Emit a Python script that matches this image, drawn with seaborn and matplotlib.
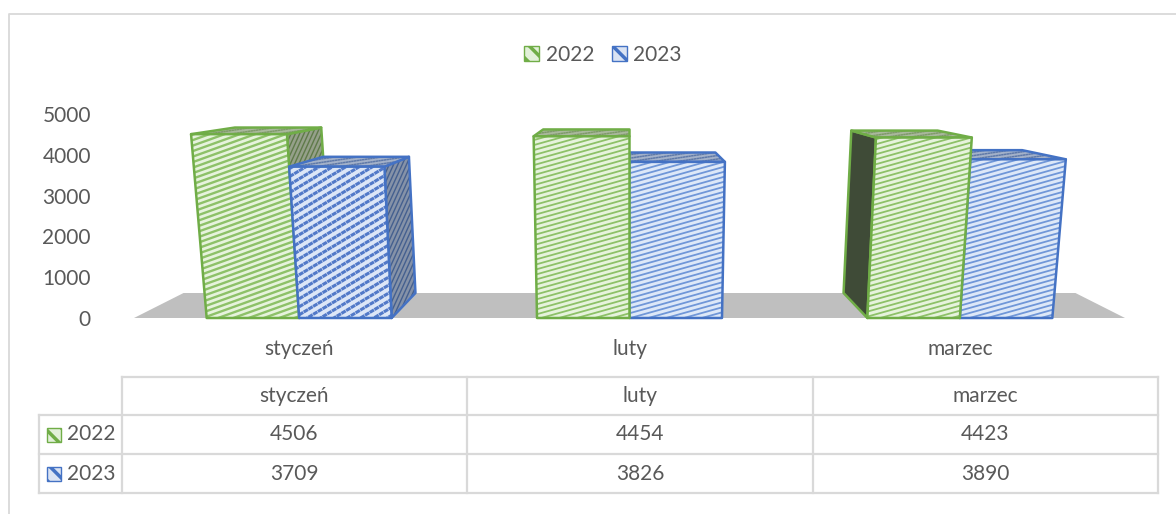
import matplotlib
matplotlib.use('Agg')
import matplotlib.pyplot as plt
import numpy as np
import pandas as pd
import seaborn as sns
from matplotlib.collections import LineCollection
from matplotlib.patches import Patch, Polygon, Rectangle

months = ['styczeń', 'luty', 'marzec']
years = ['2022', '2023']
values_2022 = [4506, 4454, 4423]
values_2023 = [3709, 3826, 3890]
y_ticks = [0, 1000, 2000, 3000, 4000, 5000]

GREEN = '#70AD47'
BLUE = '#4472C4'
TEXT = '#595959'
GRID = '#D9D9D9'

# perspective of the 3d box, in data units
CX = 1.0
VANISH_Y = 6127
SKEW = 8.2e-6
DEPTH = 0.1
PX_X = 330.5
PX_Y = 0.0408

# light fill, stripe colour, stripe width, slope, spacing (px)
front_style = {
    ('2022', 0): ('#E6F3DC', '#8DC168', 1.7, 0.36, 5.5),
    ('2022', 1): ('#E6F3DC', '#8DC168', 1.3, 0.28, 5.0),
    ('2022', 2): ('#E6F3DC', '#8DC168', 1.3, 0.28, 5.0),
    ('2023', 0): ('#DCE6F7', '#5279C8', 2.2, 0.6, 8.0),
    ('2023', 1): ('#DDE8F8', '#7097D8', 1.3, 0.28, 5.0),
    ('2023', 2): ('#DDE8F8', '#7097D8', 1.3, 0.28, 5.0),
}
side_style = {
    '2022': ('#95A08A', '#5F7A4A'),
    '2023': ('#8592A8', '#45608F'),
}
top_style = {'2022': ('#A9B89C', '#7F9A6A'), '2023': ('#A3B1C9', '#5F79A8')}

plt.rcParams['font.family'] = ['Lato', 'DejaVu Sans']
plt.rcParams['hatch.linewidth'] = 2.5

df = pd.DataFrame({
    'month': months * 2,
    'year': [years[0]] * 3 + [years[1]] * 3,
    'value': values_2022 + values_2023,
})

fig = plt.figure(figsize=(11.76, 5.14), dpi=100)
ax = fig.add_axes([134 / 1176, (514 - 318) / 514, 991 / 1176, 204 / 514])
sns.barplot(data=df, x='month', y='value', hue='year', hue_order=years, width=0.56,
            palette=[GREEN, BLUE], legend=False, ax=ax)
ax.set_xlim(-0.5, 2.5)
ax.set_ylim(0, 5000)
ax.set_yticks(y_ticks)
ax.set_xlabel('')
ax.set_ylabel('')
ax.tick_params(axis='x', length=0, pad=15, labelsize=15, labelcolor=TEXT)
ax.tick_params(axis='y', length=0, pad=31, labelsize=15, labelcolor=TEXT)
for s in ax.spines.values():
    s.set_visible(False)


def proj(x, v, d=0):
    fx = CX + (x - CX) * (1 + SKEW * v)
    s = 1 - d * DEPTH
    return CX + (fx - CX) * s, VANISH_Y + (v - VANISH_Y) * s


def face(points, fill, edge, stripe, lw, slope, spacing, z, dots=False):
    poly = Polygon(points, closed=True, facecolor=fill, edgecolor='none', zorder=z, clip_on=False)
    ax.add_patch(poly)
    # slanted stripes cut to the face
    k = slope * PX_X / PX_Y
    offs = np.arange(-16000, 8000, spacing / PX_Y)
    segs = [[(-0.6, o + k * -0.6), (2.6, o + k * 2.6)] for o in offs]
    lc = LineCollection(segs, colors=stripe, linewidths=lw, zorder=z + 0.1,
                        linestyles=(0, (1.6, 0.2)) if dots else 'solid')
    ax.add_collection(lc, autolim=False)
    lc.set_clip_path(poly)
    ax.add_patch(Polygon(points, closed=True, facecolor='none', edgecolor=edge, linewidth=1.8,
                         joinstyle='round', zorder=z + 0.2, clip_on=False))


# floor
floor = [proj(-0.5, 0), proj(2.5, 0), proj(2.5, 0, 1), proj(-0.5, 0, 1)]
ax.add_patch(Polygon(floor, closed=True, facecolor='#BFBFBF', edgecolor='none', zorder=1))

# swap the flat bars for boxes, outermost first
bars = []
for year, container, colour in zip(years, ax.containers, [GREEN, BLUE]):
    for i, bar in enumerate(container):
        bar.set_visible(False)
        bars.append((year, i, bar.get_x(), bar.get_x() + bar.get_width(), bar.get_height(), colour))
bars.sort(key=lambda b: -abs((b[2] + b[3]) / 2 - CX))

z = 2
for year, i, x0, x1, v, colour in bars:
    sfill, sstripe = side_style[year]
    if x1 < CX:
        face([proj(x1, 0), proj(x1, v), proj(x1, v, 1), proj(x1, 0, 1)],
             sfill, colour, sstripe, 1.0, 2.2, 9.5, z)
    if x0 > CX:
        face([proj(x0, 0), proj(x0, v), proj(x0, v, 1), proj(x0, 0, 1)],
             '#3F4B37', colour, '#6A8755', 1.0, 2.2, 9.5, z)
    tfill, tstripe = top_style[year]
    face([proj(x0, v), proj(x1, v), proj(x1, v, 1), proj(x0, v, 1)],
         tfill, colour, tstripe, 1.1, 0.15, 3.5, z + 1, dots=True)
    fill, stripe, lw, slope, spacing = front_style[(year, i)]
    face([proj(x0, 0), proj(x1, 0), proj(x1, v), proj(x0, v)],
         fill, colour, stripe, lw, slope, spacing, z + 2, dots=(year, i) == ('2023', 0))
    z += 3

# legend
handles = [Patch(facecolor='#E2F0D9', edgecolor=GREEN, hatch='\\\\', label=years[0]),
           Patch(facecolor='#DAE3F3', edgecolor=BLUE, hatch='\\\\', label=years[1])]
fig.legend(handles=handles, ncol=2, loc='center', bbox_to_anchor=(603 / 1176, 1 - 55 / 514),
           frameon=False, fontsize=15, labelcolor=TEXT, handlelength=0.72, handleheight=0.72,
           handletextpad=0.3, columnspacing=0.85)

# outer frame and data table, drawn in pixels
tb = fig.add_axes([0, 0, 1, 1], facecolor='none')
tb.set_xlim(0, 1176)
tb.set_ylim(514, 0)
tb.axis('off')
tb.plot([9, 9, 1176], [514, 14, 14], color=GRID, lw=1.3, clip_on=False)

col_x = [122, 467, 813, 1158]
row_y = [377, 415, 454, 493]
tb.plot([col_x[0], col_x[-1]], [row_y[0]] * 2, color=GRID, lw=1.6)
for y in row_y[1:]:
    tb.plot([39, col_x[-1]], [y, y], color=GRID, lw=1.6)
for x in col_x:
    tb.plot([x, x], [row_y[0], row_y[-1]], color=GRID, lw=1.6)
tb.plot([39, 39], [row_y[1], row_y[-1]], color=GRID, lw=1.6)

cell_rows = [values_2022, values_2023]
for j, month in enumerate(months):
    cx = (col_x[j] + col_x[j + 1]) / 2
    tb.text(cx, 396, month, ha='center', va='center', fontsize=15, color=TEXT)
    for r, row in enumerate(cell_rows):
        tb.text(cx, (row_y[r + 1] + row_y[r + 2]) / 2, str(row[j]), ha='center', va='center',
                fontsize=15, color=TEXT)
for r, (year, fill, edge) in enumerate(zip(years, ['#E2F0D9', '#DAE3F3'], [GREEN, BLUE])):
    cy = (row_y[r + 1] + row_y[r + 2]) / 2
    tb.add_patch(Rectangle((47, cy - 7), 14, 14, facecolor=fill, edgecolor=edge, hatch='\\\\'))
    tb.text(67, cy, year, ha='left', va='center', fontsize=15, color=TEXT)

fig.savefig('out.png', dpi=100)
